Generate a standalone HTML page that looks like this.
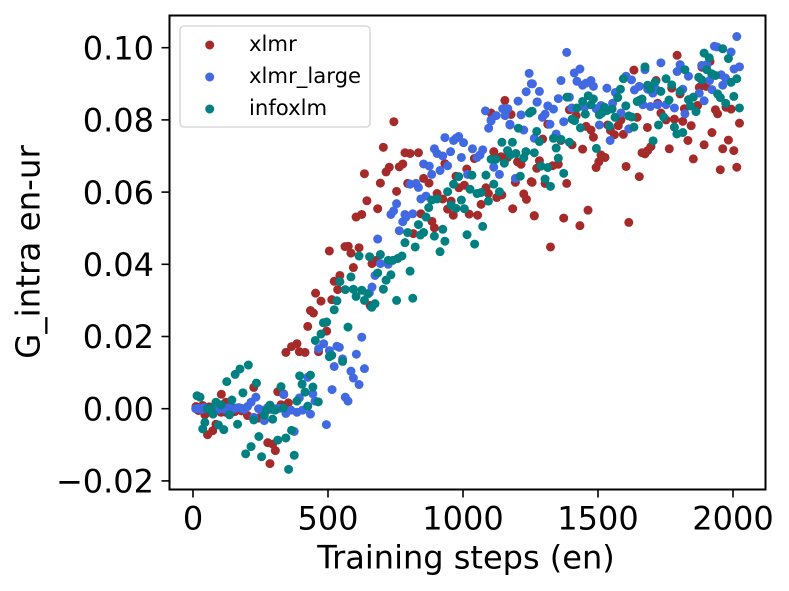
<!DOCTYPE html>
<html>
<head>
<meta charset="utf-8">
<title>G_intra en-ur chart</title>
<style>
html,body{margin:0;padding:0;background:#fff;}
svg{display:block;}
text{font-family:"DejaVu Sans","Liberation Sans",sans-serif;fill:#000;}
</style>
</head>
<body>
<svg id="chart" xmlns="http://www.w3.org/2000/svg" width="789" height="591" viewBox="0 0 789 591">
  <rect x="169.5" y="15.5" width="596" height="474" fill="#fff"/>
  <g id="series"></g>
  <g id="axes"></g>
  <rect x="169.5" y="15.5" width="596" height="474" fill="none" stroke="#000" stroke-width="2"/>
  <g>
    <rect x="180" y="26" width="190" height="101" rx="4" fill="#fff" fill-opacity="0.8" stroke="#d9d9d9" stroke-width="1.6"/>
    <circle cx="209.7" cy="45" r="4.5" fill="#a52a2a"/>
    <text x="249" y="51" font-size="21.2">xlmr</text>
    <circle cx="209.7" cy="77" r="4.5" fill="#4169e1"/>
    <text x="249" y="83" font-size="21.2">xlmr_large</text>
    <circle cx="209.7" cy="109" r="4.5" fill="#008080"/>
    <text x="249" y="115" font-size="21.2">infoxlm</text>
  </g>
  <text x="466" y="568.5" font-size="32" text-anchor="middle">Training steps (en)</text>
  <text x="0" y="0" font-size="32.5" text-anchor="middle" transform="translate(39.5,252) rotate(-90)">G_intra en-ur</text>
</svg>
<script>
const xTicks = [0, 500, 1000, 1500, 2000];
const xTickLabels = ['0', '500', '1000', '1500', '2000'];
const yTicks = [-0.02, 0, 0.02, 0.04, 0.06, 0.08, 0.10];
const yTickLabels = ['\u22120.02', '0.00', '0.02', '0.04', '0.06', '0.08', '0.10'];

const xlmrSteps = [454,474,514,523,536,659,105,225,314,336,353,326,11,36,44,104,122,202,242,85,73,54,277,295,305,285,122,155,180,20,60,140,260,
744,705,785,804,835,635,694,754,644,684,604,625,715,727,764,777,795,854,874,933,1042,1114,1141,1165,1202,1215,1273,1283,974,1014,985,1005,1085,1194,1253,904,925,956,1067,1094,1125,1144,1225,1235,1184,1264,943,964,1023,1054,844,885,894,816,505,563,575,615,585,594,663,678,544,435,446,425,495,365,385,394,415,344,465,656,
1155,1104,1178,
1793,1633,1715,1915,1885,1773,1804,1875,1900,1869,1820,1935,1943,1974,1993,2024,1721,1733,1783,1814,1752,1845,1683,1922,1833,1983,1893,1962,2003,1764,1853,1953,2014,1696,1684,1663,1674,1604,1653,1645,1575,1585,1536,1546,1561,1594,1456,1474,1483,1443,1511,1526,1503,1493,1394,1419,1314,1295,1363,1404,1332,1353,1256,1304,1384,1264,1373,1433,1463,1614,1324];
const xlmrValues = [.0320,.0298,.0302,.0353,.0330,.0283,.0040,.0059,.0047,.0041,.0016,.0011,.0006,.0009,-.0017,-.0010,.0018,-.0019,-.0026,-.0043,-.0061,-.0072,-.0094,-.0098,-.0116,-.0152,-.0010,-.0008,-.0006,-.0005,.0005,.0004,-.0012,
.0795,.0724,.0709,.0707,.0709,.0651,.0625,.0602,.0576,.0554,.0531,.0538,.0656,.0669,.0670,.0678,.0624,.0638,.0625,.0679,.0693,.0712,.0698,.0696,.0684,.0677,.0666,.0687,.0644,.0664,.0612,.0619,.0612,.0627,.0629,.0596,.0581,.0575,.0566,.0596,.0585,.0592,.0595,.0580,.0554,.0535,.0553,.0536,.0539,.0536,.0540,.0519,.0501,.0485,.0437,.0449,.0450,.0446,.0431,.0391,.0402,.0411,.0369,.0272,.0265,.0228,.0215,.0172,.0180,.0158,.0156,.0156,.0158,.0286,
.0854,.0819,.0815,
.0979,.0938,.0909,.0962,.0946,.0888,.0872,.0890,.0893,.0840,.0831,.0828,.0817,.0835,.0830,.0791,.0846,.0819,.0802,.0796,.0800,.0784,.0779,.0765,.0743,.0744,.0731,.0720,.0715,.0720,.0692,.0662,.0669,.0726,.0715,.0709,.0706,.0671,.0643,.0807,.0784,.0800,.0786,.0771,.0759,.0760,.0782,.0772,.0752,.0719,.0703,.0696,.0684,.0668,.0828,.0812,.0788,.0747,.0743,.0731,.0673,.0677,.0627,.0624,.0624,.0534,.0528,.0507,.0550,.0516,.0448];

const xlmrLargeSteps = [10,20,30,40,50,60,70,80,90,100,110,120,130,140,150,160,170,180,190,250,275,290,305,320,
233,215,202,243,225,264,344,385,406,435,363,336,394,425,444,452,375,494,515,564,574,615,594,585,635,523,554,605,625,542,533,505,484,465,
684,694,723,674,663,653,764,777,789,814,785,733,743,754,844,863,804,826,835,854,875,884,915,943,894,904,925,954,994,933,965,974,984,1002,1035,1073,1063,1052,1017,1114,1135,1194,1095,1104,1174,1225,1264,
1245,1253,1234,1283,1204,1275,1083,1147,1166,1123,1156,1104,1215,1174,
1384,1433,1412,1363,1422,1443,1474,1483,1456,1533,1564,1604,1624,1635,1653,1674,1684,1703,1715,1733,1804,1793,1835,1814,1875,1884,1903,1913,1922,1893,1931,1941,1993,2014,2004,2024,1956,1972,1962,1257,1274,1314,1335,1353,1394,1403,1304,1294,1322,1373,1345,1505,1545,1614,1493,1511,1554,1585,1666,1694,1721,1752,1783,1822,1450];
const xlmrLargeValues = [.0000,.0001,-.0002,.0003,.0000,-.0001,-.0003,.0001,-.0002,.0000,.0000,-.0002,.0002,.0001,-.0001,.0002,.0003,.0001,-.0002,-.0003,.0002,-.0002,.0000,.0001,
.0032,.0018,.0006,.0000,-.0024,-.0033,-.0013,-.0010,-.0004,-.0015,-.0004,.0039,.0030,.0087,.0041,.0021,-.0063,-.0044,.0053,.0032,.0021,.0067,.0085,.0104,.0111,.0117,.0138,.0151,.0198,.0170,.0173,.0161,.0180,.0166,
.0470,.0402,.0400,.0369,.0337,.0321,.0493,.0518,.0531,.0540,.0538,.0538,.0548,.0568,.0581,.0589,.0622,.0624,.0613,.0678,.0672,.0649,.0660,.0673,.0720,.0707,.0700,.0712,.0696,.0751,.0743,.0749,.0754,.0737,.0720,.0717,.0703,.0696,.0649,.0669,.0649,.0638,.0777,.0797,.0786,.0772,.0749,
.0929,.0900,.0878,.0879,.0852,.0850,.0825,.0831,.0831,.0812,.0812,.0800,.0814,.0788,
.0987,.0941,.0930,.0909,.0907,.0896,.0909,.0893,.0902,.0888,.0876,.0921,.0911,.0883,.0893,.0939,.0885,.0874,.0885,.0958,.0953,.0934,.0921,.0885,.0874,.0951,.0953,.0909,.0884,.0853,.1004,.1002,.0988,.1031,.0941,.0947,.0925,.0916,.0896,.0900,.0849,.0839,.0830,.0859,.0863,.0833,.0816,.0807,.0788,.0795,.0761,.0786,.0743,.0775,.0831,.0840,.0846,.0819,.0842,.0837,.0842,.0842,.0833,.0817,.0835];

const infoxlmSteps = [15,26,125,156,174,205,235,185,144,85,104,54,67,74,135,44,36,94,114,165,225,244,215,195,254,314,344,365,375,354,264,273,285,295,304,335,326,385,395,435,404,415,444,425,464,453,474,505,514,554,
1144,1183,1205,1273,1283,1165,1175,1196,1233,1264,1225,1104,1122,1153,1289,1212,1085,1033,984,965,1114,943,1026,1052,1067,1135,1094,884,904,873,994,956,974,1005,863,835,925,1073,795,854,842,894,1015,933,785,823,915,1043,615,654,694,723,740,758,774,804,733,684,715,585,544,564,594,625,705,647,604,635,674,662,533,523,754,814,483,495,574,
1246,1256,1252,1335,1363,1394,1345,1353,1314,1373,1304,1324,1385,1422,1453,1404,1413,1435,1443,1464,1483,1474,1524,1505,1514,1533,1552,1563,1542,1494,1573,1583,1594,1603,1614,1625,1633,1645,1653,1663,1674,1684,1694,1712,1733,1752,1773,1763,1804,1743,1724,1783,1792,1814,1704,1822,1835,1853,1842,1863,1873,1884,1893,1912,1903,1921,1935,1962,1983,1993,2014,1943,1953,1973,2003,2024];
const infoxlmValues = [.0036,.0032,.0075,.0095,.0110,.0121,.0071,.0044,.0024,.0018,.0011,.0000,.0000,-.0015,-.0017,-.0038,-.0056,-.0045,-.0058,-.0043,-.0031,-.0077,-.0105,-.0125,-.0133,-.0087,-.0081,-.0060,-.0129,-.0168,-.0018,-.0004,.0010,-.0029,-.0004,.0002,.0061,.0021,.0091,.0093,.0068,.0046,.0060,.0007,.0019,.0189,.0207,.0144,.0148,.0131,
.0738,.0738,.0777,.0768,.0740,.0715,.0703,.0707,.0712,.0709,.0695,.0691,.0691,.0680,.0672,.0644,.0647,.0647,.0643,.0622,.0622,.0601,.0608,.0596,.0599,.0601,.0575,.0578,.0581,.0557,.0578,.0564,.0555,.0554,.0531,.0510,.0497,.0505,.0488,.0488,.0481,.0478,.0482,.0464,.0460,.0448,.0435,.0456,.0423,.0421,.0427,.0411,.0411,.0416,.0423,.0381,.0371,.0376,.0356,.0365,.0352,.0330,.0331,.0328,.0331,.0318,.0311,.0300,.0291,.0281,.0299,.0274,.0300,.0306,.0238,.0240,.0226,
.0819,.0824,.0823,.0749,.0746,.0738,.0722,.0694,.0668,.0652,.0636,.0616,.0863,.0833,.0816,.0802,.0798,.0778,.0851,.0867,.0858,.0842,.0835,.0814,.0819,.0826,.0830,.0807,.0783,.0721,.0862,.0885,.0914,.0839,.0811,.0808,.0780,.0851,.0854,.0858,.0947,.0896,.0885,.0905,.0879,.0914,.0897,.0855,.0879,.0808,.0786,.0780,.0761,.0765,.0742,.0939,.0856,.0863,.0839,.0823,.0918,.0911,.0985,.0972,.0939,.0928,.0923,.0997,.0970,.0904,.0914,.0872,.0862,.0846,.0865,.0833];

const SVG_NS = 'http://www.w3.org/2000/svg';
const X_ZERO_PX = 193, X_PX_PER_STEP = 0.27;
const Y_ZERO_PX = 408.7, Y_PX_PER_UNIT = 3610;
function xScale(v) { return X_ZERO_PX + v * X_PX_PER_STEP; }
function yScale(v) { return Y_ZERO_PX - v * Y_PX_PER_UNIT; }

const seriesLayer = document.getElementById('series');
const axesLayer = document.getElementById('axes');

function drawSeries(steps, values, color, name) {
  for (let i = 0; i < steps.length; i++) {
    const dot = document.createElementNS(SVG_NS, 'circle');
    
    
    dot.setAttribute('cx', xScale(steps[i]));
    dot.setAttribute('cy', yScale(values[i]));
    dot.setAttribute('r', 4.5);
    dot.setAttribute('fill', color);
    seriesLayer.appendChild(dot);
  }
}
drawSeries(xlmrSteps, xlmrValues, '#a52a2a', 'xlmr');
drawSeries(xlmrLargeSteps, xlmrLargeValues, '#4169e1', 'xlmr-large');
drawSeries(infoxlmSteps, infoxlmValues, '#008080', 'infoxlm');

xTicks.forEach(function (t, i) {
  const mark = document.createElementNS(SVG_NS, 'line');
  
  
  mark.setAttribute('x1', xScale(t));
  mark.setAttribute('x2', xScale(t));
  mark.setAttribute('y1', 490);
  mark.setAttribute('y2', 497.5);
  mark.setAttribute('stroke', '#000');
  mark.setAttribute('stroke-width', 1.6);
  axesLayer.appendChild(mark);
  const label = document.createElementNS(SVG_NS, 'text');
  
  
  label.setAttribute('x', xScale(t));
  label.setAttribute('y', 529.3);
  label.setAttribute('font-size', 32);
  label.setAttribute('text-anchor', 'middle');
  label.textContent = xTickLabels[i];
  axesLayer.appendChild(label);
});

yTicks.forEach(function (t, i) {
  const mark = document.createElementNS(SVG_NS, 'line');
  
  
  mark.setAttribute('x1', 161.5);
  mark.setAttribute('x2', 169);
  mark.setAttribute('y1', yScale(t));
  mark.setAttribute('y2', yScale(t));
  mark.setAttribute('stroke', '#000');
  mark.setAttribute('stroke-width', 1.6);
  axesLayer.appendChild(mark);
  const label = document.createElementNS(SVG_NS, 'text');
  
  
  label.setAttribute('x', 154);
  label.setAttribute('y', yScale(t) + 11.7);
  label.setAttribute('font-size', 32);
  label.setAttribute('text-anchor', 'end');
  label.textContent = yTickLabels[i];
  axesLayer.appendChild(label);
});
</script>
</body>
</html>
